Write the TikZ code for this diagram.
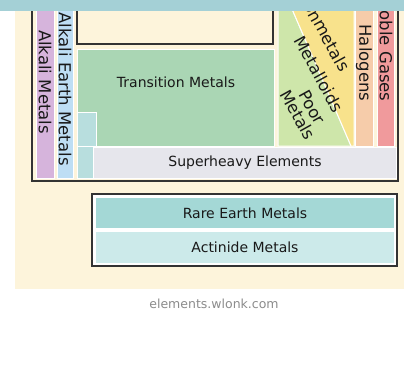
\documentclass[tikz,border=0pt]{standalone}
\usepackage{fontspec}
\setmainfont{DejaVu Sans}
\definecolor{bannerteal}{RGB}{164,208,214}
\definecolor{panelcream}{RGB}{253,244,219}
\definecolor{alkpurple}{RGB}{214,180,220}
\definecolor{earthblue}{RGB}{190,222,244}
\definecolor{transgreen}{RGB}{170,214,180}
\definecolor{cellteal}{RGB}{184,222,222}
\definecolor{heavygray}{RGB}{230,230,236}
\definecolor{poorgreen}{RGB}{206,230,170}
\definecolor{loidyellow}{RGB}{248,226,140}
\definecolor{halopeach}{RGB}{246,204,170}
\definecolor{noblepink}{RGB}{240,154,156}
\definecolor{rareteal}{RGB}{164,216,214}
\definecolor{actiteal}{RGB}{204,234,234}
\begin{document}
\begin{tikzpicture}[x=1pt,y=-1pt]
\tikzset{ cell/.style={draw=white, line width=1pt},
  frame/.style={draw=black!80, line width=1.6pt},
  lbl/.style={font=\fontsize{14}{15}\selectfont, text=black!90, inner sep=0pt, align=center},
  vlbl/.style={lbl, font=\fontsize{16.5}{16}\selectfont} }

\useasboundingbox (0,0) rectangle (404,391);
\fill [white] (0,0) rectangle (404,391);
\fill [panelcream] (15,0) rectangle (404,289);

% main table
\draw [frame, fill=panelcream] (32,-5) rectangle (398,181);
\draw [cell, fill=alkpurple]  (36,-5) rectangle (54,178);
\draw [cell, fill=earthblue]  (57,-5) rectangle (73,178);
\draw [frame, fill=panelcream] (77,-5) rectangle (273,44);
\draw [cell, fill=transgreen] (77,49) rectangle (274,146);
\draw [cell, fill=cellteal]   (77,112) rectangle (96,146);
\draw [cell, fill=cellteal]   (77,146) rectangle (93,178);
\draw [cell, fill=heavygray]  (93,147) rectangle (396,178);
\draw [cell, fill=poorgreen]  (278,-5) -- (286,-5) -- (351,146) -- (278,146) -- cycle;
\draw [cell, fill=loidyellow] (286,-5) -- (354,-5) -- (354,146) -- (351,146) -- cycle;
\draw [cell, fill=halopeach]  (355,-5) rectangle (373,146);
\draw [cell, fill=noblepink]  (377,-5) rectangle (394,146);

\node [vlbl, rotate=-90] (alkali) at (45,82) {Alkali Metals};
\node [vlbl, rotate=-90] (earth) at (65,89) {Alkali Earth Metals};
\node [lbl] (trans) at (176,82) {Transition Metals};
\node [lbl] (heavy) at (245,163) {Superheavy Elements};
\node [vlbl, rotate=-61] (nonmet) at (324,31) {Nonmetals};
\node [vlbl, rotate=-61] (loids) at (319,74) {Metalloids};
\node [vlbl, rotate=-61, text width=60pt] (poor) at (305,111) {Poor\\Metals};
\node [vlbl, rotate=-90] (halo) at (364,63) {Halogens};
\node [vlbl, rotate=-90] (noble) at (386,50) {Noble Gases};

% inner transition rows
\draw [frame, fill=white] (92,194) rectangle (397,266);
\draw [cell, fill=rareteal] (95,197) rectangle (394,228);
\draw [cell, fill=actiteal] (95,231) rectangle (394,263);
\node [lbl] (rare) at (245,213) {Rare Earth Metals};
\node [lbl] (acti) at (245,247) {Actinide Metals};

\node [font=\fontsize{12.5}{13}\selectfont, text=black!45] (site) at (214,304) {elements.wlonk.com};

\fill [bannerteal] (0,0) rectangle (404,11);
\end{tikzpicture}
\end{document}
